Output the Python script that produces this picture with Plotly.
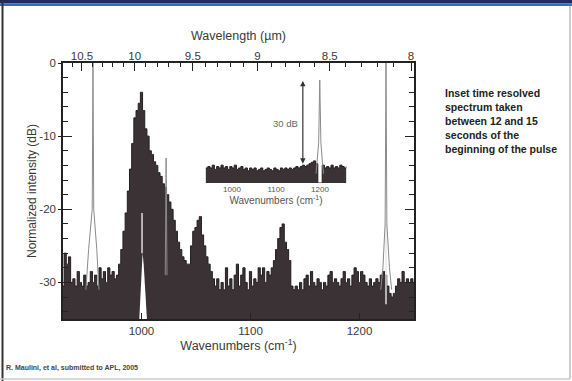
import plotly.graph_objects as go

# ---------------- data ----------------
wavenumber = list(range(928, 1251, 2))  # cm^-1 sampling grid
intensity_db = [
    -30.5, -26, -27.5, -26.5, -30, -29.5, -30.5, -28.5, -30, -30.5,
    -29, -30.5, -30, -28.5, -30, -29, -30.5, -28, -29.5, -28.5,
    -30, -28, -29, -28.5, -29.5, -29, -27.5, -25.5, -23, -20.5,
    -17.5, -14.5, -11, -7.5, -6.5, -5.5, -4, -6.5, -9, -10,
    -12, -12.5, -13.5, -14, -15, -15.5, -16.5, -17, -18, -19,
    -20, -21.5, -23, -24.5, -25.5, -26.5, -27, -27.5, -27.5, -25,
    -23, -22.5, -21.5, -21, -23.5, -25, -26.5, -27.5, -28.5, -29.5,
    -30.5, -29.5, -31, -30, -31, -28, -30.5, -29.5, -31, -29,
    -27.5, -30.5, -29, -28, -30, -31, -28.5, -30.5, -29.5, -30,
    -28, -29, -28, -30, -28.5, -29, -28, -27, -25.5, -24,
    -22.5, -22, -24.5, -25.5, -27, -30.5, -31, -30.5, -31, -30,
    -31, -29.5, -29, -30.5, -28.5, -30, -30.5, -29.5, -30, -31,
    -30, -30.5, -29, -28.5, -30, -29.5, -30, -30.5, -29.5, -28.5,
    -30, -29.5, -30.5, -29, -28, -28.5, -30, -28.5, -29, -30,
    -30.5, -29.5, -30.5, -30, -29.5, -30, -29, -28.5, -29, -30.5,
    -31.5, -32, -31.5, -30.5, -29.5, -30, -28.5, -30, -29.5, -30,
    -29.5, -30,
]

# narrow reference lines (thin grey outline)
ref_wn = [949, 951.5, 954.8, 955.5, 956.2, 959, 961, None,
          1021.8, 1022.6, 1023.4, None,
          1219.5, 1221.5, 1223.5, 1224.3, 1225.1, 1227.5, 1229.5]
ref_db = [-31, -25.5, -20, 0, -20, -25.5, -31, None,
          -29, -13, -29, None,
          -31, -28, -22, 0, -22, -28, -31]

# white notch and light inner lines
notch_wn = [998, 1000, 1001, 1002, 1005]
notch_db = [-35, -27.5, -26, -27.5, -35]
light_wn = [1000.5, 1000.5, None, 1224.3, 1224.3]
light_db = [-20.5, -26, None, -22, -33]

# inset: time resolved spectrum
inset_wn = list(range(940, 1261, 5))
inset_db = [
    -31, -30.5, -31, -30, -31.5, -30.5, -31, -30, -31, -30.5,
    -31.5, -30.5, -31, -30, -31.5, -31, -30.5, -31.5, -31, -32,
    -31, -31.5, -31, -32, -31.5, -31, -32, -31.5, -31, -31.5,
    -32, -31, -31.5, -32, -31, -31.5, -31, -31.5, -31, -31.5,
    -31, -30.5, -31, -30.5, -30, -30.5, -30, -29.5, -29, -28.5,
    -29.5, -36.3, -36.3, -30, -31, -30.5, -31, -30, -31, -30.5,
    -31, -30, -30.5, -31, -30.5,
]
inset_peak_wn = [1191, 1193.5, 1197, 1199.5, 1202, 1205.5, 1208]
inset_peak_db = [-33, -29, -22, 0, -22, -29, -33]

wn_ticks = [1000, 1100, 1200]
db_ticks = [0, -10, -20, -30]
db_ticktext = ["0", "-10", "-20", "-30"]
db_minor = [-2, -4, -6, -8, -12, -14, -16, -18, -22, -24, -26, -28, -32, -34]
wl_major = [10.5, 10, 9.5, 9, 8.5, 8]
wl_major_text = ["10.5", "10", "9.5", "9", "8.5", "8"]
wl_minor = [10.7, 10.6, 10.4, 10.3, 10.2, 10.1, 9.9, 9.8, 9.7, 9.6,
            9.4, 9.3, 9.2, 9.1, 8.9, 8.8, 8.7, 8.6, 8.4, 8.3, 8.2, 8.1]

side_lines = ["Inset time resolved", "spectrum taken", "between 12 and 15",
              "seconds of the", "beginning of the pulse"]
footer = "R. Maulini, et al, submitted to APL, 2005"

# ---------------- layout geometry ----------------
W, H = 572, 381
L, R, T, B = 63, 158, 63, 62
PW, PH = W - L - R, H - T - B


def px(x):
    return (x - L) / PW


def py(y):
    return (H - B - y) / PH


XR = [928, 1250]
XR_TOP = [935.2, 1252.7]   # top (wavelength) scale as printed in the original figure
YR = [-35, 0]
BOT = YR[0]
FILL = "#3b3236"
AX = "#222222"
TXT = "#3a3a3a"
FONT = "Liberation Sans, Arial, sans-serif"

fig = go.Figure()

# main spectrum (filled to bottom of the frame)
fig.add_trace(go.Scatter(x=wavenumber, y=[BOT] * len(wavenumber), mode="lines",
                         line=dict(width=0), hoverinfo="skip", showlegend=False))
fig.add_trace(go.Scatter(x=wavenumber, y=intensity_db, mode="lines", line_shape="hvh",
                         line=dict(color="#241e20", width=1), fill="tonexty",
                         fillcolor=FILL, showlegend=False))

# white notch + light inner lines + grey reference lines (overlay subplot)
fig.add_trace(go.Scatter(x=notch_wn, y=notch_db, mode="lines", fill="toself",
                         fillcolor="white", line=dict(width=0), showlegend=False,
                         xaxis="x", yaxis="y4"))
fig.add_trace(go.Scatter(x=light_wn, y=light_db, mode="lines",
                         line=dict(color="#e8e8e8", width=1.4), showlegend=False,
                         xaxis="x", yaxis="y4"))
fig.add_trace(go.Scatter(x=ref_wn, y=ref_db, mode="lines",
                         line=dict(color="#8a8a8a", width=1), showlegend=False,
                         xaxis="x", yaxis="y4"))
# registers the top wavelength axis (no visible marks)
fig.add_trace(go.Scatter(x=[10000 / w for w in wl_major], y=[None] * len(wl_major),
                         mode="markers", hoverinfo="skip", showlegend=False,
                         xaxis="x2", yaxis="y"))

# inset
IB = -36.3
fig.add_trace(go.Scatter(x=inset_wn, y=[IB] * len(inset_wn), mode="lines",
                         line=dict(width=0), hoverinfo="skip", showlegend=False,
                         xaxis="x3", yaxis="y3"))
fig.add_trace(go.Scatter(x=inset_wn, y=inset_db, mode="lines", line_shape="hv",
                         line=dict(color="#241e20", width=1), fill="tonexty",
                         fillcolor=FILL, showlegend=False, xaxis="x3", yaxis="y3"))
fig.add_trace(go.Scatter(x=inset_peak_wn, y=inset_peak_db, mode="lines",
                         line=dict(color="#8a8a8a", width=1), showlegend=False,
                         xaxis="x3", yaxis="y3"))

axfont = dict(family=FONT, size=11.5, color=TXT)
titlefont = dict(family=FONT, size=12.5, color=TXT)

fig.update_layout(
    width=W, height=H,
    margin=dict(l=L, r=R, t=T, b=B),
    paper_bgcolor="white", plot_bgcolor="white",
    font=dict(family=FONT, color=TXT),
    showlegend=False,
    xaxis=dict(range=XR, tickvals=wn_ticks, ticks="inside", ticklen=6, tickwidth=1.2,
               tickcolor=AX, showline=True, linecolor=AX, linewidth=1.5, mirror=True,
               showgrid=False, zeroline=False, tickfont=axfont,
               title=dict(text="Wavenumbers (cm<sup>-1</sup>)", font=titlefont, standoff=6)),
    xaxis2=dict(range=XR_TOP, overlaying="x", side="top", anchor="y",
                tickvals=[10000 / w for w in wl_major], ticktext=wl_major_text,
                ticks="inside", ticklen=8, tickwidth=1.2, tickcolor=AX,
                minor=dict(tickvals=[10000 / w for w in wl_minor], ticks="inside",
                           ticklen=4, tickwidth=1.2, tickcolor=AX),
                showline=False, showgrid=False, zeroline=False, tickfont=axfont,
                title=dict(text="Wavelength (µm)", font=titlefont, standoff=6)),
    yaxis=dict(range=YR, tickvals=db_ticks, ticktext=db_ticktext, ticks="outside",
               ticklen=3, tickwidth=1.2, tickcolor=AX, showline=True, linecolor=AX,
               linewidth=1.5, mirror=True, showgrid=False, zeroline=False,
               tickfont=axfont,
               title=dict(text="Normalized intensity (dB)",
                          font=dict(family=FONT, size=12, color=TXT), standoff=0)),
    yaxis4=dict(range=YR, overlaying="y", anchor="x", side="left", tickvals=db_ticks,
                ticks="inside", ticklen=9, tickwidth=1.2, tickcolor=AX,
                minor=dict(tickvals=db_minor, ticks="inside", ticklen=5,
                           tickwidth=1.2, tickcolor=AX),
                mirror="ticks", showline=True, linecolor=AX, linewidth=1.5,
                showticklabels=False, showgrid=False, zeroline=False),
    xaxis3=dict(domain=[px(205.6), px(346.4)], anchor="y3", range=[940, 1260],
                tickvals=wn_ticks, ticks="", showline=False, showgrid=False,
                zeroline=False, tickfont=dict(family=FONT, size=8, color="#555"),
                title=dict(text="Wavenumbers (cm<sup>-1</sup>)",
                           font=dict(family=FONT, size=10, color="#555"), standoff=3)),
    yaxis3=dict(domain=[py(183), py(77.2)], anchor="x3", range=[IB, 1], visible=False),
)

# inset 30 dB double arrow and label
fig.add_annotation(x=1161, y=-0.3, ax=1161, ay=-30, xref="x3", yref="y3",
                   axref="x3", ayref="y3", text="", showarrow=True,
                   arrowside="end+start", arrowhead=2, arrowsize=0.9,
                   arrowwidth=1.2, arrowcolor="#333")
fig.add_annotation(x=1154, y=-15.5, xref="x3", yref="y3", text="30 dB",
                   showarrow=False, xanchor="right", yanchor="middle",
                   font=dict(family=FONT, size=9.5, color="#666"))

# side note text
for i, line in enumerate(side_lines):
    fig.add_annotation(x=px(443), y=py(93 + 14 * i), xref="paper", yref="paper",
                       text="<b>" + line + "</b>", showarrow=False, xanchor="left",
                       yanchor="middle", font=dict(family=FONT, size=10.5, color="#222"))

# footer reference
fig.add_annotation(x=px(4), y=py(368), xref="paper", yref="paper",
                   text="<b>" + footer + "</b>", showarrow=False, xanchor="left",
                   yanchor="middle", font=dict(family=FONT, size=7, color="#444"))

# slide decorations: header bar and borders
shapes = [
    dict(type="rect", xref="paper", yref="paper", x0=px(0), x1=px(W), y0=py(0), y1=py(3.5),
         fillcolor="#1d2f5c", line=dict(width=0), layer="above"),
    dict(type="rect", xref="paper", yref="paper", x0=px(0), x1=px(W), y0=py(3.5), y1=py(6),
         fillcolor="#3f6cb5", line=dict(width=0), layer="above"),
    dict(type="line", xref="paper", yref="paper", x0=px(2.5), x1=px(2.5), y0=py(0), y1=py(H),
         line=dict(color="#333", width=2)),
    dict(type="line", xref="paper", yref="paper", x0=px(570), x1=px(570), y0=py(6), y1=py(379),
         line=dict(color="#bbb", width=1.5)),
    dict(type="line", xref="paper", yref="paper", x0=px(0), x1=px(570), y0=py(379), y1=py(379),
         line=dict(color="#ccc", width=1.5)),
]
fig.update_layout(shapes=shapes)

fig.write_html("out.html")
